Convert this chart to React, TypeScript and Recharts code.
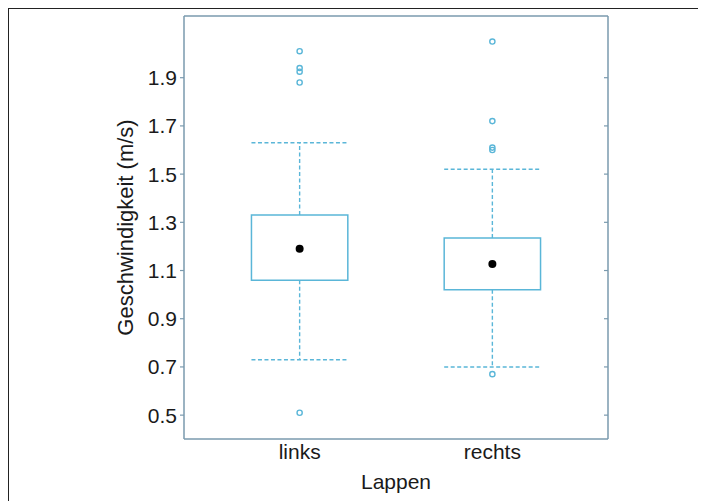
import { ComposedChart, XAxis, YAxis, Scatter, ReferenceArea, ReferenceLine } from 'recharts';

const categories = ['links', 'rechts'];
const positions = [1, 2];
const q1 = [1.06, 1.02];
const q3 = [1.33, 1.235];
const medians = [1.19, 1.127];
const whiskerLow = [0.73, 0.7];
const whiskerHigh = [1.63, 1.52];
const outliersLinks = [2.01, 1.94, 1.925, 1.88, 0.51];
const outliersRechts = [2.05, 1.72, 1.61, 1.6, 0.67];
const yTicks = [0.5, 0.7, 0.9, 1.1, 1.3, 1.5, 1.7, 1.9];

const BOX = '#5ab6d8';
const FRAME = '#7a9aae';
const TEXT = '#1a1a1a';
const FONT = 'Liberation Sans, Arial, sans-serif';
const HALF = 0.25;
const X_DOMAIN: [number, number] = [0.4, 2.6];
const Y_DOMAIN: [number, number] = [0.401, 2.156];

const medianPoints = positions.map((x, i) => ({ x, y: medians[i] }));
const outlierPoints = [
  ...outliersLinks.map((y) => ({ x: positions[0], y })),
  ...outliersRechts.map((y) => ({ x: positions[1], y })),
];

const OutlierDot = (props: any) => (
  <circle cx={props.cx} cy={props.cy} r={2.6} fill="none" stroke={BOX} strokeWidth={1.4} />
);
const MedianDot = (props: any) => <circle cx={props.cx} cy={props.cy} r={4} fill="#000" />;

export default function App() {
  return (
    <div
      style={{
        width: 691,
        height: 493,
        borderLeft: '1.5px solid #222',
        borderRight: '1.5px solid #222',
        borderTop: '1.5px solid #222',
        boxSizing: 'border-box',
      }}
    >
      <ComposedChart width={688} height={491} margin={{ top: 6, right: 89, bottom: 0, left: 0 }}>
        <XAxis
          dataKey="x"
          type="number"
          domain={X_DOMAIN}
          ticks={positions}
          tickFormatter={(v: number) => categories[positions.indexOf(v)] ?? ''}
          height={61}
          tickLine={false}
          tickSize={0}
          tickMargin={5}
          axisLine={{ stroke: FRAME, strokeWidth: 1.5 }}
          tick={{ fill: TEXT, fontSize: 21, fontFamily: FONT }}
          label={{
            value: 'Lappen',
            position: 'insideBottom',
            offset: 11,
            fill: TEXT,
            fontSize: 21,
            fontFamily: FONT,
          }}
        />
        <XAxis
          xAxisId="top"
          orientation="top"
          dataKey="x"
          type="number"
          domain={X_DOMAIN}
          height={1}
          tick={false}
          tickLine={false}
          axisLine={{ stroke: FRAME, strokeWidth: 1.5 }}
        />
        <YAxis
          yAxisId="left"
          dataKey="y"
          type="number"
          domain={Y_DOMAIN}
          ticks={yTicks}
          width={175}
          tickSize={4}
          tickMargin={3}
          tickFormatter={(v: number) => v.toFixed(1)}
          tickLine={{ stroke: FRAME, strokeWidth: 1.2 }}
          axisLine={{ stroke: FRAME, strokeWidth: 1.5 }}
          tick={{ fill: TEXT, fontSize: 21, fontFamily: FONT }}
          label={{
            content: (p: any) => {
              const vb = p.viewBox;
              const cx = vb.x + 116;
              const cy = vb.y + vb.height / 2;
              return (
                <text
                  x={cx}
                  y={cy}
                  transform={`rotate(-90 ${cx} ${cy})`}
                  textAnchor="middle"
                  dominantBaseline="central"
                  fill={TEXT}
                  fontSize={22}
                  fontFamily={FONT}
                >
                  Geschwindigkeit (m/s)
                </text>
              );
            },
          }}
        />
        <YAxis
          yAxisId="right"
          orientation="right"
          dataKey="y"
          type="number"
          domain={Y_DOMAIN}
          ticks={yTicks}
          width={1}
          mirror
          tickSize={4}
          tickFormatter={() => ''}
          tickLine={{ stroke: FRAME, strokeWidth: 1.2 }}
          axisLine={{ stroke: FRAME, strokeWidth: 1.5 }}
        />

        {positions.map((x, i) => (
          <ReferenceLine
            key={`wu${i}`}
            yAxisId="left"
            segment={[{ x, y: q3[i] }, { x, y: whiskerHigh[i] }]}
            stroke={BOX}
            strokeWidth={1.4}
            strokeDasharray="4 2.5"
          />
        ))}
        {positions.map((x, i) => (
          <ReferenceLine
            key={`wl${i}`}
            yAxisId="left"
            segment={[{ x, y: q1[i] }, { x, y: whiskerLow[i] }]}
            stroke={BOX}
            strokeWidth={1.4}
            strokeDasharray="4 2.5"
          />
        ))}
        {positions.map((x, i) => (
          <ReferenceLine
            key={`cu${i}`}
            yAxisId="left"
            segment={[{ x: x - HALF, y: whiskerHigh[i] }, { x: x + HALF, y: whiskerHigh[i] }]}
            stroke={BOX}
            strokeWidth={1.4}
            strokeDasharray="4 2.5"
          />
        ))}
        {positions.map((x, i) => (
          <ReferenceLine
            key={`cl${i}`}
            yAxisId="left"
            segment={[{ x: x - HALF, y: whiskerLow[i] }, { x: x + HALF, y: whiskerLow[i] }]}
            stroke={BOX}
            strokeWidth={1.4}
            strokeDasharray="4 2.5"
          />
        ))}
        {positions.map((x, i) => (
          <ReferenceArea
            key={`b${i}`}
            yAxisId="left"
            x1={x - HALF}
            x2={x + HALF}
            y1={q1[i]}
            y2={q3[i]}
            fill="#fff"
            fillOpacity={1}
            stroke={BOX}
            strokeWidth={1.5}
          />
        ))}

        <Scatter yAxisId="left" data={outlierPoints} shape={OutlierDot} isAnimationActive={false} />
        <Scatter yAxisId="left" data={medianPoints} shape={MedianDot} isAnimationActive={false} />
        {/* invisible series so the top/right frame axes get rendered */}
        <Scatter
          xAxisId="top"
          yAxisId="right"
          data={medianPoints}
          shape={() => <g />}
          isAnimationActive={false}
        />
      </ComposedChart>
    </div>
  );
}
